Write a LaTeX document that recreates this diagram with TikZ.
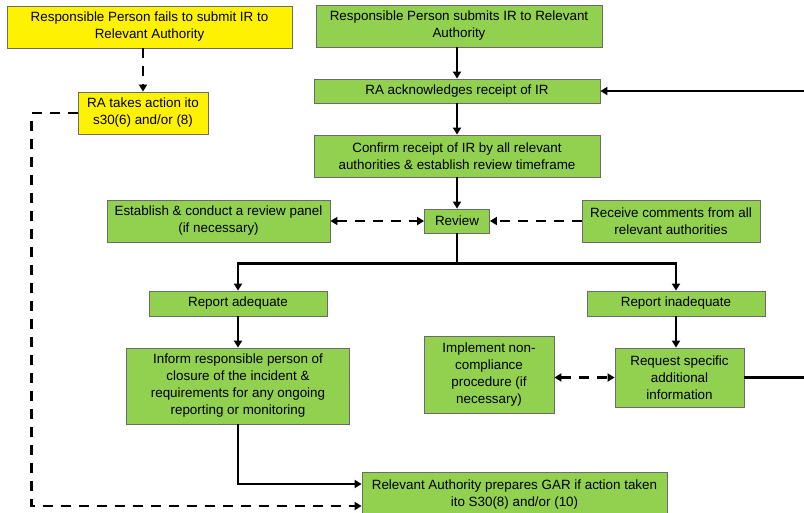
\documentclass[tikz,border=0pt]{standalone}
\usepackage{fontspec}
\setmainfont{Liberation Sans}
\usetikzlibrary{arrows.meta, calc}

\definecolor{boxgreen}{HTML}{92D050}
\definecolor{boxyellow}{HTML}{FFF200}
\definecolor{boxedge}{HTML}{6B6B6B}

\begin{document}
\begin{tikzpicture}[x=1pt,y=-1pt,
    box/.style={draw=boxedge, line width=0.8pt, fill=boxgreen, align=center, inner sep=1pt,
      font=\fontsize{13.4}{17}\selectfont},
    warnbox/.style={box, fill=boxyellow},
    line/.style={line width=2.9pt},
    arrow/.style={line, -{Triangle[length=7pt,width=8pt]}},
    dashline/.style={line width=2.9pt, dash pattern=on 10pt off 8pt}]
    \useasboundingbox (0,0) rectangle (804,512);
    \clip (0,0) rectangle (804,512);
    \node[warnbox, minimum width=285, minimum height=42] (fails) at (149.5,27) {Responsible Person fails to submit IR to\\Relevant Authority};
    \node[box, minimum width=286, minimum height=42] (submits) at (459,26) {Responsible Person submits IR to Relevant\\Authority};
    \node[box, minimum width=286, minimum height=24] (ack) at (457,91) {RA acknowledges receipt of IR};
    \node[box, minimum width=286, minimum height=42] (confirm) at (457,156) {Confirm receipt of IR by all relevant\\authorities \& establish review timeframe};
    \node[warnbox, minimum width=130, minimum height=42] (ratakes) at (143,113) {RA takes action ito\\s30(6) and/or (8)};
    \node[box, minimum width=223, minimum height=42] (panel) at (218.5,221) {Establish \& conduct a review panel\\(if necessary)};
    \node[box, minimum width=65, minimum height=24] (review) at (457,221) {Review};
    \node[box, minimum width=178, minimum height=42] (comments) at (671,221) {Receive comments from all\\relevant authorities};
    \node[box, minimum width=178, minimum height=25] (adequate) at (238,303.5) {Report adequate};
    \node[box, minimum width=178, minimum height=25] (inadequate) at (676,303.5) {Report inadequate};
    \node[box, minimum width=223, minimum height=76] (inform) at (238,386) {Inform responsible person of\\closure of the incident \&\\requirements for any  ongoing\\reporting or monitoring};
    \node[box, minimum width=130, minimum height=77] (noncomp) at (489,374.5) {Implement non-\\compliance\\procedure (if\\necessary)};
    \node[box, minimum width=129, minimum height=59] (request) at (679.5,377.5) {Request specific\\additional\\information};
    \node[box, minimum width=305, minimum height=46] (gar) at (514.5,495) {Relevant Authority prepares GAR if action taken\\ito S30(8) and/or (10)};
    \coordinate (rightedge) at (816,0);
    \draw[arrow] (submits.south -| ack) -- (ack);
    \draw[arrow] (ack) -- (confirm);
    \draw[arrow] (confirm) -- (review);
    \draw[dashline, -{Triangle[length=7pt,width=8pt]}] (fails.south -| ratakes) -- (ratakes);
    \draw[dashline, {Triangle[length=7pt,width=8pt]}-{Triangle[length=7pt,width=8pt]}] (panel) -- (review);
    \draw[dashline, -{Triangle[length=7pt,width=8pt]}] (comments) -- (review);
    \draw[line] (review.south) -- ++(0,30) coordinate (split);
    \draw[arrow] (split) -| (adequate.north);
    \draw[arrow] (split) -| (inadequate.north);
    \draw[arrow] (adequate) -- (inform);
    \draw[arrow] (inadequate) -- (inadequate |- request.north);
    \draw[dashline, {Triangle[length=7pt,width=8pt]}-{Triangle[length=7pt,width=8pt]}] (noncomp.east |- request) -- (request);
    \draw[arrow] (request.east) -- (request.east -| rightedge) |- (ack.east);
    \draw[arrow] (inform.south) |- ([yshift=11pt]gar.west);
    \draw[dashline, -{Triangle[length=7pt,width=8pt]}] (ratakes.west) -- ++(-46,0) |- ([yshift=-11pt]gar.west);
\end{tikzpicture}
\end{document}
